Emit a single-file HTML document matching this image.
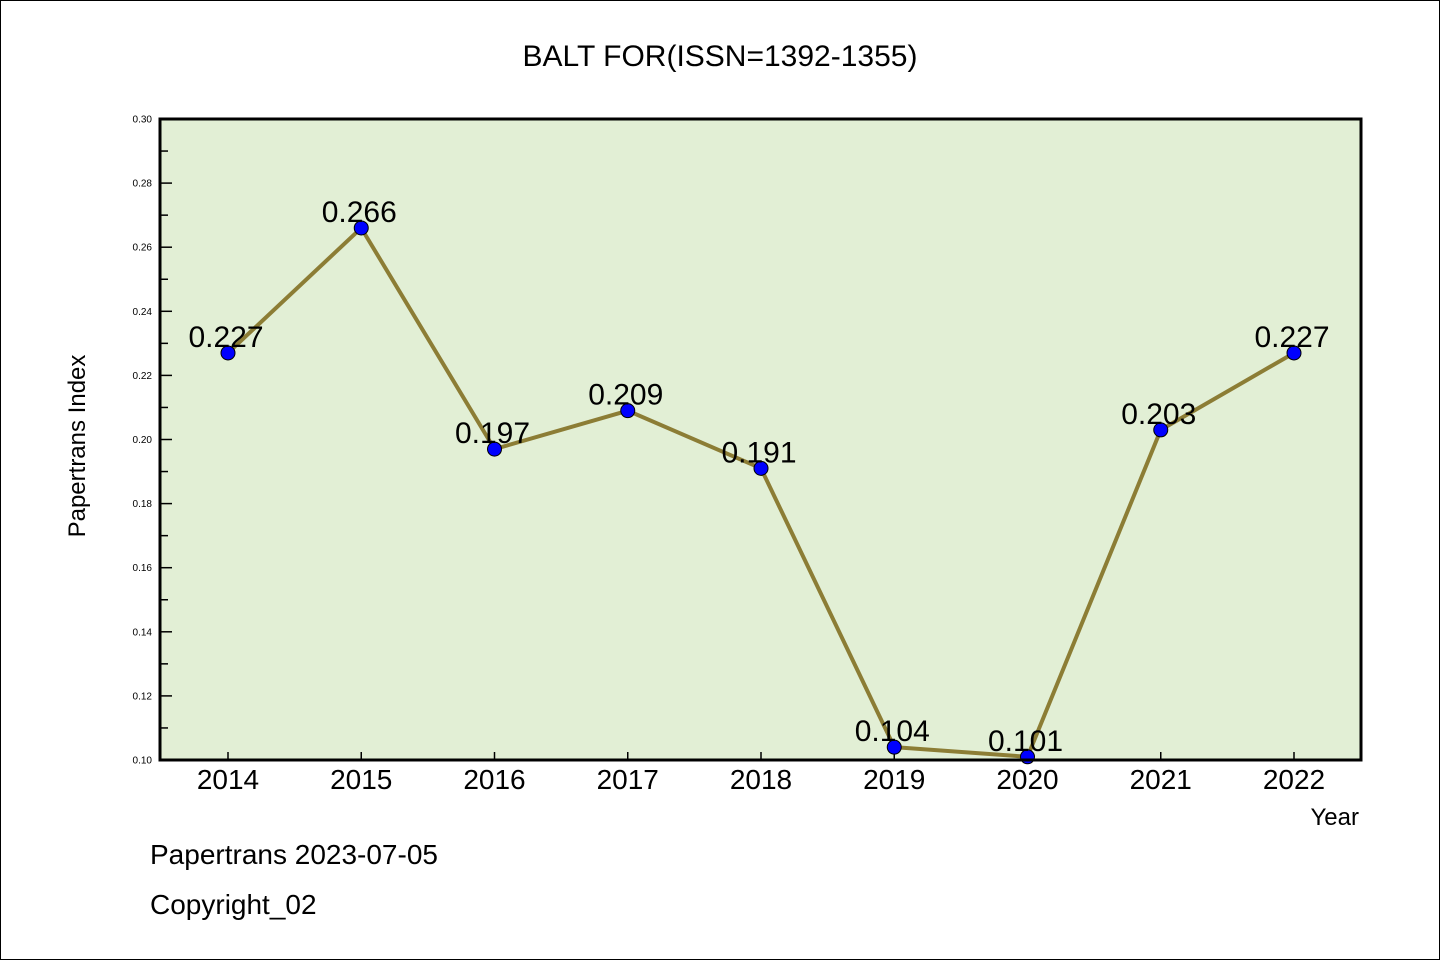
<!DOCTYPE html>
<html><head><meta charset="utf-8"><style>
body{margin:0;background:#fff;}
svg{display:block;}
text{font-family:"WenQuanYi Zen Hei","Liberation Sans",sans-serif;fill:#000;}
</style></head><body>
<svg id="chart" width="1440" height="960">
<rect x="0.5" y="0.5" width="1439" height="959" fill="#fff" stroke="#000" stroke-width="1"/>
<text x="720" y="66" font-size="30" text-anchor="middle">BALT FOR(ISSN=1392-1355)</text>
<rect x="160" y="119" width="1201" height="641" fill="#e2efd5"/>
<g id="yaxis"></g>
<g id="xaxis"></g>
<g id="series"></g>
<rect x="160" y="119" width="1201" height="641" fill="none" stroke="#000" stroke-width="3"/>
<text x="85" y="446" font-size="24" text-anchor="middle" transform="rotate(-90 85 446)">Papertrans Index</text>
<text x="1359" y="825" font-size="24" text-anchor="end">Year</text>
<text x="150" y="864" font-size="28">Papertrans 2023-07-05</text>
<text x="150" y="914" font-size="28">Copyright_02</text>
</svg>
<script>
const categories=["2014","2015","2016","2017","2018","2019","2020","2021","2022"];
const values=[0.227,0.266,0.197,0.209,0.191,0.104,0.101,0.203,0.227];
const valueLabels=["0.227","0.266","0.197","0.209","0.191","0.104","0.101","0.203","0.227"];
const yTicks=[0.10,0.12,0.14,0.16,0.18,0.20,0.22,0.24,0.26,0.28,0.30];
const yTickLabels=["0.10","0.12","0.14","0.16","0.18","0.20","0.22","0.24","0.26","0.28","0.30"];
const yMin=0.10,yMax=0.30;
const L=160,R=1361,T=119,B=760;
const x0=228,dx=(1294-228)/8;
function xs(i){return x0+i*dx;}
function ys(v){return B-(v-yMin)/(yMax-yMin)*(B-T);}
const NS="http://www.w3.org/2000/svg";
function mk(tag,attrs,parent){const e=document.createElementNS(NS,tag);for(const k in attrs)e.setAttribute(k,attrs[k]);parent.appendChild(e);return e;}
const ya=document.getElementById('yaxis'),xa=document.getElementById('xaxis'),sg=document.getElementById('series');
yTicks.forEach((v,i)=>{
  const y=ys(v);
  const t=mk('line',{x1:L,x2:L+12,y1:y,y2:y,stroke:'#000','stroke-width':1.5},ya);
  
  
  const lb=mk('text',{x:152,y:y+3.5,'font-size':10,'text-anchor':'end','font-family':'DejaVu Sans, sans-serif'},ya);
  lb.textContent=yTickLabels[i];
  
  
  if(i<yTicks.length-1){
    const ym=ys(v+0.01);
    const m=mk('line',{x1:L,x2:L+8,y1:ym,y2:ym,stroke:'#000','stroke-width':1.5},ya);
    
    
  }
});
categories.forEach((c,i)=>{
  const x=xs(i);
  const t=mk('line',{x1:x,x2:x,y1:B,y2:B-8,stroke:'#000','stroke-width':1.5},xa);
  
  
  const lb=mk('text',{x:x,y:789,'font-size':28,'text-anchor':'middle'},xa);
  lb.textContent=c;
  
  
});
const pl=mk('polyline',{points:values.map((v,i)=>xs(i)+','+ys(v)).join(' '),fill:'none',stroke:'#8c7d35','stroke-width':4,'stroke-linejoin':'round'},sg);


values.forEach((v,i)=>{
  const c=mk('circle',{cx:xs(i),cy:ys(v),r:7,fill:'#0000ff',stroke:'#000','stroke-width':1},sg);
  
  
  const lb=mk('text',{x:xs(i)+in_off(i),y:ys(v)-6,'font-size':30,'text-anchor':'middle'},sg);
  lb.textContent=valueLabels[i];
  
  
});
function in_off(i){return -2;}
</script>
</body></html>
